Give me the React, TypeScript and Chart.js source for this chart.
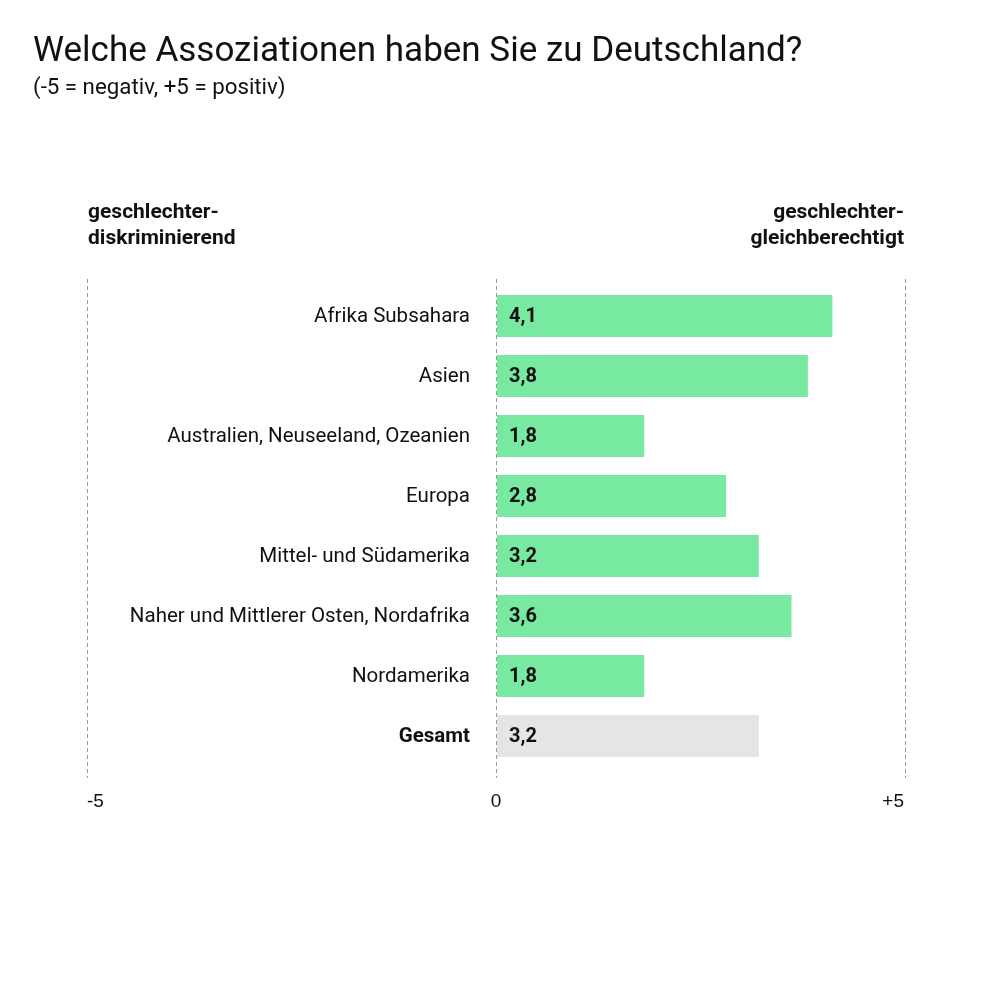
import React, { useEffect, useRef } from "react";
import { Chart, registerables } from "chart.js";

Chart.register(...registerables);

const title = "Welche Assoziationen haben Sie zu Deutschland?";
const subtitle = "(-5 = negativ, +5 = positiv)";
const leftHeader = ["geschlechter-", "diskriminierend"];
const rightHeader = ["geschlechter-", "gleichberechtigt"];

const categories = [
  "Afrika Subsahara",
  "Asien",
  "Australien, Neuseeland, Ozeanien",
  "Europa",
  "Mittel- und Südamerika",
  "Naher und Mittlerer Osten, Nordafrika",
  "Nordamerika",
  "Gesamt",
];
const values = [4.1, 3.8, 1.8, 2.8, 3.2, 3.6, 1.8, 3.2];
const valueLabels = ["4,1", "3,8", "1,8", "2,8", "3,2", "3,6", "1,8", "3,2"];
const tickValues = [-5, 0, 5];
const tickLabels = ["-5", "0", "+5"];

const GREEN = "#77e9a0";
const GREY = "#e5e5e5";
const FONT = "Roboto, 'Noto Sans', sans-serif";
const TICK_FONT = "'Liberation Sans', Arial, sans-serif";

const decorPlugin = {
  id: "decor",
  beforeDatasetsDraw(chart: any) {
    const { ctx, chartArea } = chart;
    const x = chart.scales.x;
    ctx.save();
    ctx.strokeStyle = "#9a9a9a";
    ctx.lineWidth = 1;
    ctx.setLineDash([4, 3]);
    tickValues.forEach((v) => {
      const px = Math.round(x.getPixelForValue(v)) - 0.5;
      ctx.beginPath();
      ctx.moveTo(px, chartArea.top - 7);
      ctx.lineTo(px, chartArea.bottom + 12);
      ctx.stroke();
    });
    ctx.restore();
  },
  afterDatasetsDraw(chart: any) {
    const { ctx, chartArea } = chart;
    const x = chart.scales.x;
    const y = chart.scales.y;
    const zero = x.getPixelForValue(0);
    ctx.save();
    ctx.textBaseline = "middle";
    categories.forEach((c, i) => {
      const py = y.getPixelForValue(i);
      const last = i === categories.length - 1;
      ctx.fillStyle = "#111";
      ctx.textAlign = "right";
      ctx.font = `${last ? "bold " : ""}20.5px ${FONT}`;
      ctx.fillText(c, zero - 27, py + 1);
      ctx.textAlign = "left";
      ctx.font = `bold 20px ${FONT}`;
      ctx.fillText(valueLabels[i], zero + 12, py + 1);
    });
    // ticks
    ctx.textBaseline = "alphabetic";
    ctx.font = `19px ${TICK_FONT}`;
    ctx.fillStyle = "#111";
    tickValues.forEach((v, i) => {
      const px = x.getPixelForValue(v);
      ctx.textAlign = i === 0 ? "left" : i === tickValues.length - 1 ? "right" : "center";
      ctx.fillText(tickLabels[i], i === 0 ? px - 1 : i === tickValues.length - 1 ? px - 2 : px - 1, chartArea.bottom + 41);
    });
    // headers
    ctx.font = `bold 21px ${FONT}`;
    ctx.textAlign = "left";
    const lx = x.getPixelForValue(-5);
    const rx = x.getPixelForValue(5);
    leftHeader.forEach((t, i) => ctx.fillText(t, lx, 218 + i * 26));
    ctx.textAlign = "right";
    rightHeader.forEach((t, i) => ctx.fillText(t, rx - 2, 218 + i * 26));
    // title
    ctx.textAlign = "left";
    ctx.font = `35px ${FONT}`;
    ctx.fillText(title, 33, 61);
    ctx.font = `22.3px ${FONT}`;
    ctx.fillText(subtitle, 33, 94);
    ctx.restore();
  },
};

export default function App() {
  const ref = useRef<HTMLCanvasElement>(null);
  useEffect(() => {
    document.body.style.margin = "0";
    const chart = new Chart(ref.current!, {
      type: "bar",
      data: {
        labels: categories,
        datasets: [
          {
            data: values,
            backgroundColor: values.map((_, i) => (i === values.length - 1 ? GREY : GREEN)),
            barPercentage: 0.7,
            categoryPercentage: 1,
            borderWidth: 0,
          },
        ],
      },
      options: {
        indexAxis: "y",
        animation: false,
        responsive: false,
        layout: { padding: { left: 88, right: 86, top: 286, bottom: 226 } },
        plugins: { legend: { display: false }, tooltip: { enabled: false }, title: { display: false } },
        scales: {
          x: { min: -5, max: 5, display: false },
          y: { display: false },
        },
      },
      plugins: [decorPlugin],
    });
    return () => chart.destroy();
  }, []);
  return <canvas ref={ref} width={992} height={992} style={{ display: "block" }} />;
}
